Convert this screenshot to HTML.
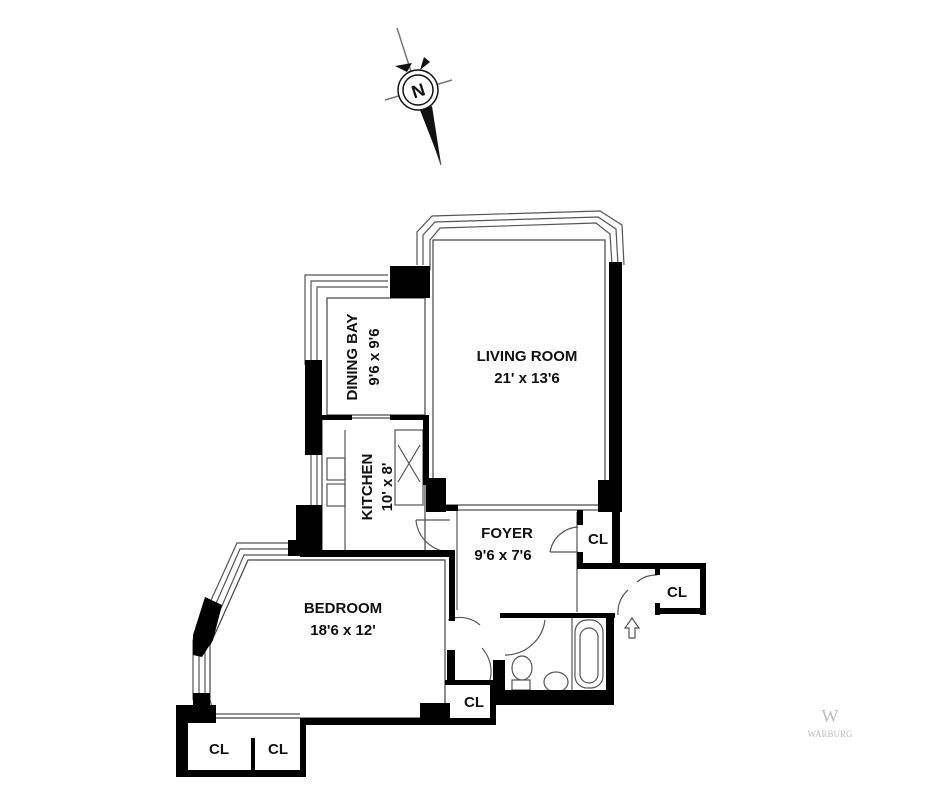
<!DOCTYPE html>
<html><head><meta charset="utf-8"><style>
html,body{margin:0;padding:0;background:#fff;}
svg{display:block}
text{font-family:"Liberation Sans",Arial,sans-serif;font-weight:bold;fill:#111}
</style></head><body>
<svg width="947" height="800" viewBox="0 0 947 800" xmlns="http://www.w3.org/2000/svg">
<rect width="947" height="800" fill="#fff"/>
<!-- compass -->
<line x1="397" y1="28" x2="441" y2="165" stroke="#777" stroke-width="1.5"/>
<line x1="385" y1="100" x2="452" y2="80" stroke="#777" stroke-width="1.5"/>
<polygon points="395,66 412,63 407,72" fill="#111"/>
<polygon points="424,57 430,62 420,70" fill="#111"/>
<circle cx="418" cy="90" r="20" fill="#fff" stroke="#111" stroke-width="1.5"/>
<circle cx="418" cy="90" r="15" fill="none" stroke="#111" stroke-width="1.5"/>
<text x="418" y="97" font-size="18" text-anchor="middle" font-weight="normal" transform="rotate(-18 418 90)">N</text>
<polygon points="420,110 432,106 441,164" fill="#111"/>

<g fill="none" stroke="#555" stroke-width="1.2">
<!-- living room bay windows -->
<polyline points="417,265 417,232 432,216 600,211 622,225 624,265"/>
<polyline points="423,265 423,235 435,222 598,217 616,229 618,265"/>
<polyline points="430,270 430,240 440,228 596,223 610,234 612,265"/>
<rect x="433" y="240" width="172" height="265" stroke="#444"/>
<!-- dining bay windows -->
<polyline points="305,365 305,275 388,275"/>
<polyline points="311,365 311,281 388,281"/>
<polyline points="317,365 317,287 388,287"/>
<rect x="327" y="298" width="98" height="117" stroke="#444"/>
<!-- kitchen -->
<rect x="322" y="418" width="103" height="135" stroke="#444"/>
<line x1="345" y1="430" x2="345" y2="553"/>
<rect x="327" y="458" width="18" height="22"/>
<rect x="327" y="484" width="18" height="22"/>
<rect x="395" y="430" width="28" height="75"/>
<line x1="398" y1="445" x2="420" y2="482"/><line x1="420" y1="445" x2="398" y2="482"/>
<line x1="311" y1="455" x2="311" y2="505"/><line x1="317" y1="455" x2="317" y2="505"/>
<!-- foyer -->
<line x1="457" y1="510" x2="457" y2="610"/>
<line x1="577" y1="512" x2="577" y2="612"/>
<line x1="457" y1="510" x2="600" y2="510"/>
<!-- bedroom bay -->
<polyline points="193,700 193,640 237,543 290,543"/>
<polyline points="199,700 199,642 240,549 290,549"/>
<polyline points="205,700 205,645 244,555 300,555"/>
<polygon points="210,700 210,645 248,560 445,560 445,718 215,718" stroke="#444"/>
<line x1="215" y1="714" x2="300" y2="714"/>
<!-- doors -->
<path d="M416 520 A35 35 0 0 0 450 552"/><line x1="416" y1="520" x2="450" y2="520"/>
<path d="M578 527 A30 30 0 0 0 550 552"/><line x1="550" y1="552" x2="578" y2="552"/>
<path d="M448 620 A30 30 0 0 1 480 625"/>
<path d="M482 648 A35 35 0 0 1 490 680"/>
<path d="M545 620 A40 40 0 0 1 505 655"/>
<path d="M618 615 A30 30 0 0 1 628 590"/>
<path d="M637 582 A30 30 0 0 1 657 575"/>
<!-- bath fixtures -->
<rect x="575" y="620" width="28" height="68" rx="12"/>
<rect x="580" y="628" width="18" height="55" rx="9"/>
<ellipse cx="522" cy="668" rx="10" ry="12"/>
<rect x="512" y="680" width="18" height="10"/>
<ellipse cx="556" cy="682" rx="12" ry="10"/>
<line x1="572" y1="618" x2="572" y2="692"/>
<polygon points="632,618 625,628 629,628 629,638 635,638 635,628 639,628"/>
</g>
<g fill="#000">
<rect x="390" y="266" width="40" height="32"/>
<rect x="609" y="262" width="13" height="250"/>
<rect x="598" y="480" width="22" height="32"/>
<rect x="426" y="478" width="20" height="34"/>
<rect x="426" y="505" width="32" height="6"/>
<rect x="305" y="360" width="17" height="95"/>
<rect x="322" y="415" width="30" height="5"/>
<rect x="390" y="415" width="38" height="5"/>
<rect x="423" y="415" width="6" height="70"/>
<rect x="296" y="505" width="26" height="50"/>
<rect x="290" y="540" width="20" height="15"/>
<rect x="288" y="540" width="12" height="16"/>
<rect x="300" y="550" width="155" height="7"/>
<rect x="577" y="510" width="6" height="15"/>
<rect x="577" y="552" width="6" height="13"/>
<rect x="612" y="510" width="8" height="58"/>
<rect x="577" y="563" width="128" height="6"/>
<rect x="700" y="563" width="6" height="52"/>
<rect x="657" y="608" width="49" height="6"/>
<rect x="655" y="563" width="5" height="12"/>
<rect x="655" y="603" width="5" height="12"/>
<rect x="500" y="613" width="115" height="5"/>
<rect x="606" y="613" width="8" height="92"/>
<rect x="500" y="690" width="114" height="15"/>
<rect x="493" y="660" width="12" height="45"/>
<rect x="449" y="553" width="6" height="68"/>
<rect x="447" y="650" width="8" height="30"/>
<rect x="445" y="680" width="50" height="5"/>
<rect x="490" y="680" width="6" height="45"/>
<rect x="420" y="703" width="30" height="22"/>
<rect x="300" y="718" width="195" height="7"/>
<!-- bedroom bay black -->
<polygon points="205,597 222,605 213,640 202,657 193,655 193,635"/>
<rect x="193" y="693" width="17" height="15"/>
<rect x="176" y="705" width="40" height="18"/>
<rect x="176" y="705" width="12" height="72"/>
<rect x="176" y="770" width="130" height="7"/>
<rect x="300" y="718" width="6" height="59"/>
<rect x="251" y="738" width="4" height="35"/>
</g>
<text x="527" y="361" font-size="15" text-anchor="middle">LIVING ROOM</text>
<text x="527" y="383" font-size="15" text-anchor="middle">21' x 13'6</text>
<text transform="translate(357,357) rotate(-90)" font-size="15" text-anchor="middle">DINING BAY</text>
<text transform="translate(379,357) rotate(-90)" font-size="15" text-anchor="middle">9'6  x 9'6</text>
<text transform="translate(372,487) rotate(-90)" font-size="15" text-anchor="middle">KITCHEN</text>
<text transform="translate(392,487) rotate(-90)" font-size="15" text-anchor="middle">10' x 8'</text>
<text x="507" y="538" font-size="15" text-anchor="middle">FOYER</text>
<text x="503" y="560" font-size="15" text-anchor="middle">9'6  x 7'6</text>
<text x="598" y="544" font-size="15" text-anchor="middle">CL</text>
<text x="677" y="597" font-size="15" text-anchor="middle">CL</text>
<text x="343" y="613" font-size="15" text-anchor="middle">BEDROOM</text>
<text x="343" y="635" font-size="15" text-anchor="middle">18'6  x 12'</text>
<text x="474" y="707" font-size="15" text-anchor="middle">CL</text>
<text x="219" y="754" font-size="15" text-anchor="middle">CL</text>
<text x="278" y="754" font-size="15" text-anchor="middle">CL</text>
<text x="830" y="722" font-size="18" text-anchor="middle" style="fill:#bbb;font-weight:normal;font-family:'Liberation Serif'">W</text>
<text x="830" y="737" font-size="9" text-anchor="middle" style="fill:#bbb;font-weight:normal;font-family:'Liberation Serif'">WARBURG</text>
</svg>
</body></html>
